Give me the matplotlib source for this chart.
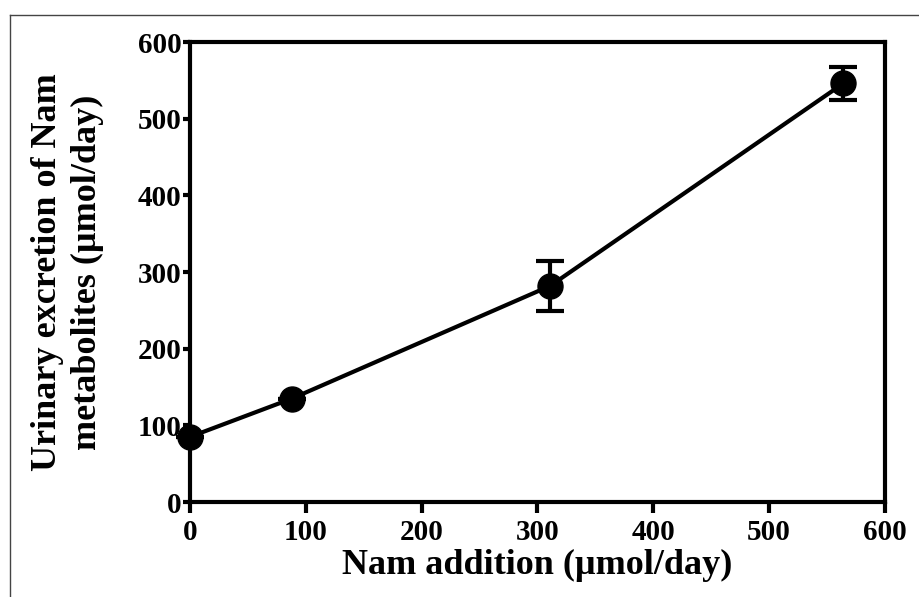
import matplotlib
matplotlib.use("Agg")
from matplotlib import pyplot as plt
from matplotlib.lines import Line2D

# values
nam_addition = [0, 88, 311, 564]
excretion = [85, 135, 282, 546]
excretion_err = [0, 0, 33, 21]

x_ticks = [0, 100, 200, 300, 400, 500, 600]
y_ticks = [0, 100, 200, 300, 400, 500, 600]

plt.rcParams["font.family"] = ["Liberation Serif", "DejaVu Serif"]
plt.rcParams["font.weight"] = "bold"

fig = plt.figure(figsize=(9.19, 5.97), dpi=100)
ax = fig.add_axes([0.2067, 0.159, 0.7563, 0.7706])

ax.errorbar(
    nam_addition, excretion, yerr=excretion_err,
    color="black", marker="o", markersize=18, linewidth=3,
    elinewidth=3, capsize=10, capthick=3, clip_on=False, zorder=3,
)

ax.set_xlim(0, 600)
ax.set_ylim(0, 600)
ax.set_xticks(x_ticks)
ax.set_yticks(y_ticks)
ax.tick_params(axis="both", direction="out", width=3, labelsize=21)
ax.tick_params(axis="x", length=8, pad=4)
ax.tick_params(axis="y", length=5, pad=1)
for lab in ax.get_xticklabels() + ax.get_yticklabels():
    lab.set_fontweight("bold")
for sp in ax.spines.values():
    sp.set_linewidth(3)

ax.set_xlabel("Nam addition (\u00b5mol/day)", fontsize=26, fontweight="bold", labelpad=2)
ax.set_ylabel("Urinary excretion of Nam\nmetabolites (\u00b5mol/day)",
              fontsize=26, fontweight="bold", labelpad=24, linespacing=1.3)

# thin frame around the figure (top and left edges visible)
fig.add_artist(Line2D([10 / 919, 10 / 919], [0, 1 - 15 / 597],
                      transform=fig.transFigure, color="#444444", linewidth=1))
fig.add_artist(Line2D([10 / 919, 1], [1 - 15 / 597, 1 - 15 / 597],
                      transform=fig.transFigure, color="#444444", linewidth=1))

fig.savefig("out.png", dpi=100)
